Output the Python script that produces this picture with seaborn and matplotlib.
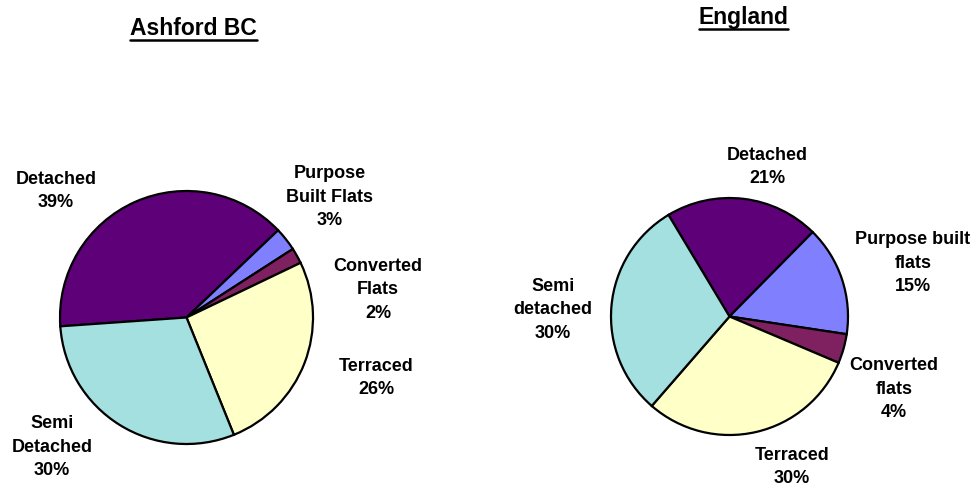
import matplotlib
matplotlib.use("Agg")
import matplotlib.pyplot as plt
import seaborn as sns
from matplotlib.lines import Line2D

# Dwelling type shares (%)
ashford_labels = ["Detached", "Purpose\nBuilt Flats", "Converted\nFlats", "Terraced", "Semi\nDetached"]
ashford_values = [39, 3, 2, 26, 30]

england_labels = ["Detached", "Purpose built\nflats", "Converted\nflats", "Terraced", "Semi\ndetached"]
england_values = [21, 15, 4, 30, 30]

titles = ["Ashford BC", "England"]

slice_colors = ["#5E0078", "#8080FF", "#7F2060", "#FFFFC8", "#A4E0E0"]

sns.set_theme(style="white")
plt.rcParams["font.family"] = ["Liberation Sans", "DejaVu Sans"]

W, H = 975, 491
fig = plt.figure(figsize=(W / 100, H / 100), dpi=100)
ax = fig.add_axes([0, 0, 1, 1])


def py(y):
    # pixel row (from top) -> data y (from bottom)
    return H - y


pies = [
    dict(values=ashford_values, labels=ashford_labels, center=(186.5, 317.5), radius=126.5, start=184,
         label_pos=[(56, 191), (330, 197), (378, 290), (376, 378), (52, 447)],
         title_pos=(193.5, 35)),
    dict(values=england_values, labels=england_labels, center=(729.5, 316.5), radius=118.5, start=121,
         label_pos=[(767, 167), (913, 263), (894, 389), (792, 467), (553, 310)],
         title_pos=(743.5, 24)),
]

title_texts = []
for spec, title in zip(pies, titles):
    cx, cy = spec["center"]
    ax.pie(spec["values"], colors=slice_colors, startangle=spec["start"], counterclock=False,
           center=(cx, py(cy)), radius=spec["radius"],
           wedgeprops=dict(edgecolor="black", linewidth=1.6))
    for name, val, (lx, ly) in zip(spec["labels"], spec["values"], spec["label_pos"]):
        ax.text(lx, py(ly), f"{name}\n{val}%", ha="center", va="center", fontsize=13,
                fontweight="bold", color="black", linespacing=1.52, multialignment="center")
    tx, ty = spec["title_pos"]
    t = ax.text(tx, py(ty), title, ha="center", va="baseline", fontsize=16.5, fontweight="bold",
                color="black")
    title_texts.append(t)

ax.set_xlim(0, W)
ax.set_ylim(0, H)
ax.set_aspect("equal")
ax.axis("off")

# underline the titles
fig.canvas.draw()
renderer = fig.canvas.get_renderer()
for t in title_texts:
    bb = t.get_window_extent(renderer=renderer)
    _, base_y = ax.transData.transform(t.get_position())
    yline = base_y - 5
    fig.add_artist(Line2D([bb.x0 / W, bb.x1 / W], [yline / H, yline / H], color="black",
                          linewidth=1.8, transform=fig.transFigure))

fig.savefig("out.png", dpi=100, facecolor="white")
